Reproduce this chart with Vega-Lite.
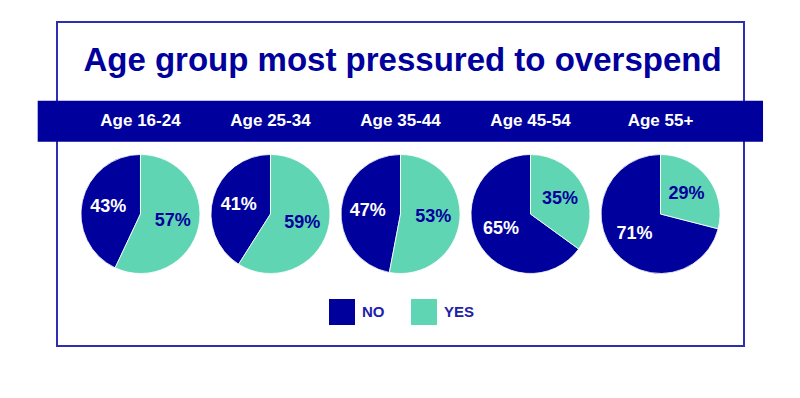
{
  "$schema": "https://vega.github.io/schema/vega-lite/v6.json",
  "width": 687,
  "height": 324,
  "autosize": {"type": "none"},
  "padding": {"left": 57, "top": 22, "right": 56, "bottom": 52},
  "background": "white",
  "config": {
    "view": {"stroke": "#2e2eb2", "strokeWidth": 2},
    "font": "Liberation Sans"
  },
  "title": {
    "text": "Age group most pressured to overspend",
    "font": "Liberation Sans",
    "fontSize": 33,
    "fontWeight": "bold",
    "color": "#00009c",
    "anchor": "middle",
    "frame": "group",
    "baseline": "alphabetic",
    "offset": -82,
    "dx": 2
  },
  "datasets": {
    "pies": [
      {"age": "Age 16-24", "answer": "NO", "pct": 0.43},
      {"age": "Age 16-24", "answer": "YES", "pct": 0.57},
      {"age": "Age 25-34", "answer": "NO", "pct": 0.41},
      {"age": "Age 25-34", "answer": "YES", "pct": 0.59},
      {"age": "Age 35-44", "answer": "NO", "pct": 0.47},
      {"age": "Age 35-44", "answer": "YES", "pct": 0.53},
      {"age": "Age 45-54", "answer": "NO", "pct": 0.65},
      {"age": "Age 45-54", "answer": "YES", "pct": 0.35},
      {"age": "Age 55+", "answer": "NO", "pct": 0.71},
      {"age": "Age 55+", "answer": "YES", "pct": 0.29}
    ],
    "groups": [
      {"age": "Age 16-24"},
      {"age": "Age 25-34"},
      {"age": "Age 35-44"},
      {"age": "Age 45-54"},
      {"age": "Age 55+"}
    ]
  },
  "resolve": {"scale": {"x": "independent"}},
  "layer": [
    {
      "data": {"values": [{"band": "header"}]},
      "mark": {"type": "rect", "fill": "#00009c", "clip": false},
      "encoding": {
        "x": {"datum": -2.81, "type": "quantitative", "scale": {"domain": [0, 100]}, "axis": null},
        "x2": {"datum": 102.77},
        "y": {"datum": 24.29, "type": "quantitative", "scale": {"domain": [0, 100], "reverse": true}, "axis": null},
        "y2": {"datum": 36.94}
      }
    },
    {
      "data": {"name": "groups"},
      "mark": {"type": "text", "color": "white", "fontSize": 17, "fontWeight": "bold", "font": "Liberation Sans", "baseline": "alphabetic", "align": "center"},
      "encoding": {
        "x": {"field": "age", "type": "ordinal", "scale": {"type": "point", "padding": 0.642, "domain": ["Age 16-24", "Age 25-34", "Age 35-44", "Age 45-54", "Age 55+"]}, "axis": null},
        "y": {"datum": 32.0, "type": "quantitative", "scale": {"domain": [0, 100], "reverse": true}, "axis": null},
        "text": {"field": "age"}
      }
    },
    {
      "data": {"name": "pies"},
      "transform": [
        {"stack": "pct", "groupby": ["age"], "sort": [{"field": "answer", "order": "descending"}], "as": ["s0", "s1"]}
      ],
      "mark": {"type": "arc", "radius": 59.5, "stroke": "white", "strokeWidth": 0.8},
      "encoding": {
        "x": {"field": "age", "type": "ordinal", "scale": {"type": "point", "padding": 0.642, "domain": ["Age 16-24", "Age 25-34", "Age 35-44", "Age 45-54", "Age 55+"]}, "axis": null},
        "y": {"datum": 59.26, "type": "quantitative", "scale": {"domain": [0, 100], "reverse": true}, "axis": null},
        "theta": {"field": "s0", "type": "quantitative", "scale": {"domain": [0, 1]}},
        "theta2": {"field": "s1"},
        "color": {
          "field": "answer",
          "type": "nominal",
          "scale": {"domain": ["NO", "YES"], "range": ["#00009c", "#5fd5b3"]},
          "legend": {
            "title": null,
            "orient": "none",
            "direction": "horizontal",
            "legendX": 272,
            "legendY": 277,
            "padding": 0,
            "symbolType": "square",
            "symbolSize": 676,
            "symbolStrokeWidth": 0,
            "symbolOpacity": 1,
            "labelFont": "Liberation Sans",
            "labelFontSize": 15,
            "labelFontWeight": "bold",
            "labelColor": "#2020a8",
            "labelOffset": 7,
            "columnPadding": 26
          }
        }
      }
    },
    {
      "data": {"name": "pies"},
      "transform": [
        {"stack": "pct", "groupby": ["age"], "sort": [{"field": "answer", "order": "descending"}], "as": ["s0", "s1"]},
        {"calculate": "(datum.s0 + datum.s1) / 2", "as": "mid"}
      ],
      "mark": {"type": "text", "radius": 33, "fontSize": 18, "fontWeight": "bold", "font": "Liberation Sans", "baseline": "middle", "align": "center"},
      "encoding": {
        "x": {"field": "age", "type": "ordinal", "scale": {"type": "point", "padding": 0.642, "domain": ["Age 16-24", "Age 25-34", "Age 35-44", "Age 45-54", "Age 55+"]}, "axis": null},
        "y": {"datum": 59.26, "type": "quantitative", "scale": {"domain": [0, 100], "reverse": true}, "axis": null},
        "theta": {"field": "mid", "type": "quantitative", "scale": {"domain": [0, 1]}},
        "text": {"field": "pct", "type": "quantitative", "format": ".0%"},
        "color": {"condition": {"test": "datum.answer === 'NO'", "value": "white"}, "value": "#00009c"}
      }
    }
  ]
}
